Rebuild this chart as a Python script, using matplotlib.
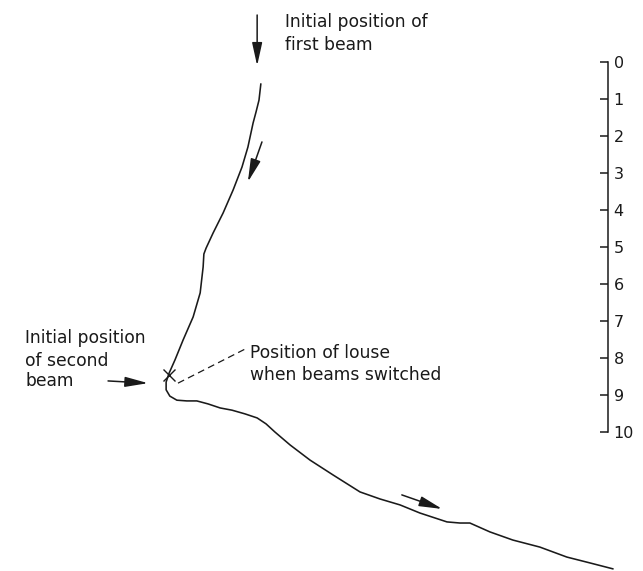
import matplotlib
matplotlib.use("Agg")
import matplotlib.pyplot as plt

# Louse track, in cm (x across, y down from the scale's 0 mark)
track_x = [7.05, 7.00, 6.92, 6.84, 6.70, 6.54, 6.30, 6.03, 5.76, 5.57, 5.51, 5.49,
           5.41, 5.22, 4.95, 4.73, 4.57, 4.49, 4.49, 4.59, 4.78, 5.05, 5.32, 5.62,
           5.95, 6.27, 6.62, 6.95, 7.19, 7.43, 7.84, 8.38, 9.00, 9.73, 10.27, 10.81,
           11.35, 12.08, 12.43, 12.70, 13.24, 13.86, 14.59, 15.32, 15.95, 16.57]
track_y = [0.59, 1.03, 1.35, 1.65, 2.30, 2.84, 3.46, 4.08, 4.62, 5.03, 5.19, 5.54,
           6.24, 6.89, 7.51, 8.05, 8.41, 8.65, 8.86, 9.03, 9.14, 9.16, 9.16, 9.24,
           9.35, 9.41, 9.51, 9.62, 9.78, 10.00, 10.35, 10.76, 11.16, 11.62, 11.81, 11.97,
           12.19, 12.43, 12.46, 12.46, 12.70, 12.92, 13.11, 13.38, 13.54, 13.70]

# Point where the beams were switched
switch_x, switch_y = 4.57, 8.46

# Direction arrows: (x_start, y_start, x_end, y_end) in cm
arrows = [
    (6.95, -1.27, 6.95, 0.10),   # first beam
    (7.08, 2.16, 6.70, 3.24),    # movement along first leg
    (2.92, 8.62, 4.00, 8.68),    # second beam
    (10.86, 11.70, 11.95, 12.08),  # movement along second leg
]

scale_ticks = list(range(0, 11))
scale_labels = [str(t) for t in scale_ticks]

ink = "#1a1a1a"
W, H = 643, 571
px_per_cm = 37.0
fig = plt.figure(figsize=(W / 100, H / 100), dpi=100)
fig.patch.set_facecolor("white")

ax = fig.add_axes([0, 0, 1, 1])
ax.set_xlim(0, W / px_per_cm)
ax.set_ylim((H - 62) / px_per_cm, -62 / px_per_cm)
ax.axis("off")

ax.plot(track_x, track_y, color=ink, lw=1.15, solid_joinstyle="round",
        solid_capstyle="round")
ax.plot([switch_x], [switch_y], marker="x", ms=9, mew=1.0, color=ink)

# dashed leader from the switch point to its label
ax.plot([4.81, 6.68], [8.68, 7.73], color=ink, lw=0.9, dashes=(5.5, 3.5))

for x0, y0, x1, y1 in arrows:
    ax.annotate("", xy=(x1, y1), xytext=(x0, y0),
                arrowprops=dict(arrowstyle="-|>,head_length=1.0,head_width=0.22",
                                mutation_scale=14, color=ink, lw=1.1,
                                shrinkA=0, shrinkB=0))

fs = 12.3
txt = dict(fontsize=fs, color=ink, ha="left", va="baseline", family="DejaVu Sans")
ax.text(7.70, -0.95, "Initial position of", **txt)
ax.text(7.70, -0.32, "first beam", **txt)
ax.text(0.68, 7.59, "Initial position", **txt)
ax.text(0.68, 8.22, "of second", **txt)
ax.text(0.68, 8.76, "beam", **txt)
ax.text(6.76, 8.00, "Position of louse", **txt)
ax.text(6.76, 8.59, "when beams switched", **txt)

# Centimetre scale bar on the right
spine_x = 608 / W
bottom = 1 - 432 / H
top = 1 - 62 / H
sax = fig.add_axes([spine_x - 0.04, bottom, 0.04, top - bottom])
sax.set_ylim(10, 0)
sax.set_xlim(0, 1)
for side in ("left", "top", "bottom"):
    sax.spines[side].set_visible(False)
sax.spines["right"].set_linewidth(1.1)
sax.spines["right"].set_color(ink)
sax.patch.set_alpha(0)
sax.set_xticks([])
sax.yaxis.tick_right()
sax.set_yticks(scale_ticks)
sax.set_yticklabels(scale_labels)
sax.tick_params(axis="y", direction="in", length=6, width=1.1, pad=4,
                labelsize=11.5, colors=ink)

fig.savefig("out.png", dpi=100, facecolor="white")
